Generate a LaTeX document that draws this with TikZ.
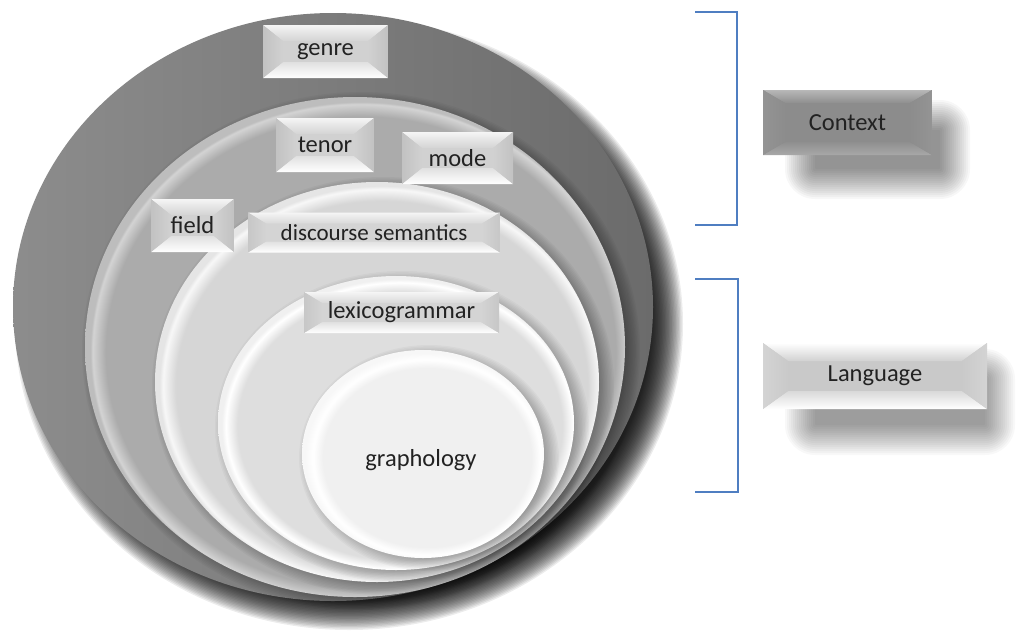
\documentclass[tikz,border=0pt]{standalone}
\usepackage{fontspec}
\setmainfont{Carlito}
\usetikzlibrary{calc,shapes.geometric}

\definecolor{txt}{HTML}{222222}
\definecolor{brk}{HTML}{4F7EC1}

% layer colours
\colorlet{bBody}{black!33}\colorlet{bRim}{black!17}\colorlet{bEdge}{black!26}
\colorlet{cBody}{black!16}\colorlet{cRim}{black!3}\colorlet{cEdge}{black!10}
\colorlet{dBody}{black!13}\colorlet{dRim}{white}\colorlet{dEdge}{black!6}
\colorlet{eBody}{black!6}\colorlet{eRim}{white}\colorlet{eEdge}{black!3}

\pgfdeclareradialshading{layerB}{\pgfpoint{1bp}{-1bp}}{color(0bp)=(bBody); color(23.6bp)=(bBody); color(24.8bp)=(bRim); color(25bp)=(bEdge); color(50bp)=(bEdge)}
\pgfdeclareradialshading{layerC}{\pgfpoint{1bp}{-1bp}}{color(0bp)=(cBody); color(23.2bp)=(cBody); color(24.6bp)=(cRim); color(25bp)=(cEdge); color(50bp)=(cEdge)}
\pgfdeclareradialshading{layerD}{\pgfpoint{1bp}{-1bp}}{color(0bp)=(dBody); color(22.8bp)=(dBody); color(24.4bp)=(dRim); color(25bp)=(dEdge); color(50bp)=(dEdge)}
\pgfdeclareradialshading{layerE}{\pgfpoint{1.5bp}{-1.5bp}}{color(0bp)=(eBody); color(21.5bp)=(eBody); color(23.5bp)=(eRim); color(25bp)=(eEdge); color(50bp)=(eEdge)}

\newcommand\boxfont{\fontsize{24.5pt}{28pt}\selectfont}

% soft shadow under an ellipse: centre, radii, spread, opacity, steps
\newcommand\softellipse[7]{%
  \pgfmathsetmacro\shadeop{1-(1-#6)^(1/#7)}%
  \foreach \lyr in {1,...,#7}{%
    \pgfmathsetmacro\shadedr{#5*(1-2*(\lyr-1)/(#7-1))}%
    \fill[black,opacity=\shadeop] (#1,#2) ellipse [x radius={(#3+\shadedr)*1pt}, y radius={(#4+\shadedr)*1pt}];
  }}
% soft shadow under a box: corners, spread, opacity, steps
\newcommand\softrect[7]{%
  \pgfmathsetmacro\shadeop{1-(1-#6)^(1/#7)}%
  \foreach \lyr in {1,...,#7}{%
    \pgfmathsetmacro\shadedr{#5*(1-2*(\lyr-1)/(#7-1))}%
    \fill[black,opacity=\shadeop,rounded corners={max(#5+\shadedr,1)*1pt}] (#1-\shadedr,#2-\shadedr) rectangle (#3+\shadedr,#4+\shadedr);
  }}

\tikzset{
  disc/.style={ellipse, inner sep=0pt, draw=none},
  % bevelled label: top hi, top lo, face, bottom lo, bottom hi, side, inset x, inset y
  bevel/.style n args={8}{
    fill=#3, draw=none, inner sep=0pt, text=txt, font=\boxfont,
    path picture={
      \coordinate (pNW) at (path picture bounding box.north west);
      \coordinate (pNE) at (path picture bounding box.north east);
      \coordinate (pSW) at (path picture bounding box.south west);
      \coordinate (pSE) at (path picture bounding box.south east);
      \coordinate (iNW) at ($(pNW)+(#7,#8)$);
      \coordinate (iNE) at ($(pNE)+(-#7,#8)$);
      \coordinate (iSW) at ($(pSW)+(#7,-#8)$);
      \coordinate (iSE) at ($(pSE)+(-#7,-#8)$);
      \shade[top color=#1, bottom color=#2] (pNW)--(pNE)--(iNE)--(iNW)--cycle;
      \shade[top color=#4, bottom color=#5] (iSW)--(iSE)--(pSE)--(pSW)--cycle;
      \shade[left color=#6, right color=#3] (pNW)--(iNW)--(iSW)--(pSW)--cycle;
      \shade[left color=#3, right color=#6] (pNE)--(iNE)--(iSE)--(pSE)--cycle;
    }},
  lightbox/.style={bevel={black!4}{black!17}{black!18}{black!12}{white}{black!24}{20}{16}},
  flatbox/.style={bevel={black!4}{black!15}{black!17}{black!12}{white}{black!22}{18}{11}},
  contextbox/.style={bevel={black!28}{black!44}{black!45}{black!44}{black!34}{black!42}{22}{13}},
  languagebox/.style={bevel={white}{black!18}{black!21}{black!15}{white}{black!17}{25}{18}},
  bracket/.style={draw=brk, line width=1.3pt, line join=miter},
  label/.style={text=txt, font=\boxfont, inner sep=0pt}
}

\begin{document}
\begin{tikzpicture}[x=1pt,y=-1pt]
\useasboundingbox (0,0) rectangle (1021,630);
\fill[white] (0,0) rectangle (1021,630);

% nested strata, outermost first
\softellipse{349}{324}{318}{290}{16}{0.85}{24}
\node[disc, minimum width=640pt, minimum height=588pt, left color=black!45, right color=black!58] (genreDisc) at (333,307) {};

\softellipse{361}{351}{270}{250}{9}{0.35}{14}
\node[disc, minimum width=540pt, minimum height=500pt, shading=layerB] (registerDisc) at (355,347) {};

\softellipse{383}{386}{222}{200}{9}{0.35}{14}
\node[disc, minimum width=444pt, minimum height=400pt, shading=layerC] (discourseDisc) at (377,382) {};

\softellipse{402}{427}{178}{147}{9}{0.32}{14}
\node[disc, minimum width=356pt, minimum height=294pt, shading=layerD] (lexisDisc) at (396,423) {};

\softellipse{429}{458}{121}{104}{9}{0.32}{14}
\node[disc, minimum width=242pt, minimum height=208pt, shading=layerE] (graphDisc) at (423,454) {};

\node[label] (graphology) at (421,460) {graphology};

% labels on the strata
\node[lightbox, minimum width=125pt, minimum height=53pt] (genre) at (325.5,51.5) {genre};
\node[lightbox, minimum width=98pt, minimum height=54pt] (tenor) at (325,145) {tenor};
\node[lightbox, minimum width=111pt, minimum height=52pt] (mode) at (457.5,158) {mode};
\node[lightbox, minimum width=83pt, minimum height=53pt] (field) at (192.5,225.5) {field};
\node[flatbox, minimum width=252pt, minimum height=40pt, font=\fontsize{23pt}{26pt}\selectfont] (discourse) at (374,232.5) {discourse semantics};
\node[flatbox, minimum width=195pt, minimum height=41pt] (lexico) at (401.5,312.5) {lexicogrammar};

% brackets and their labels
\coordinate (cxA) at (695,12);
\coordinate (cxB) at (737,12);
\coordinate (cxC) at (737,225);
\coordinate (cxD) at (695,225);
\draw[bracket] (cxA) -- (cxB) -- (cxC) -- (cxD);
\coordinate (lgA) at (695,279);
\coordinate (lgB) at (738,279);
\coordinate (lgC) at (738,492);
\coordinate (lgD) at (695,492);
\draw[bracket] (lgA) -- (lgB) -- (lgC) -- (lgD);

\softrect{800}{115}{955}{184}{15}{0.42}{16}
\node[contextbox, minimum width=169pt, minimum height=65pt] (context) at (847.5,122.5) {Context};

\softrect{800}{364}{1000}{440}{15}{0.38}{16}
\node[languagebox, minimum width=224pt, minimum height=66pt] (language) at (875,376) {Language};
\end{tikzpicture}
\end{document}
